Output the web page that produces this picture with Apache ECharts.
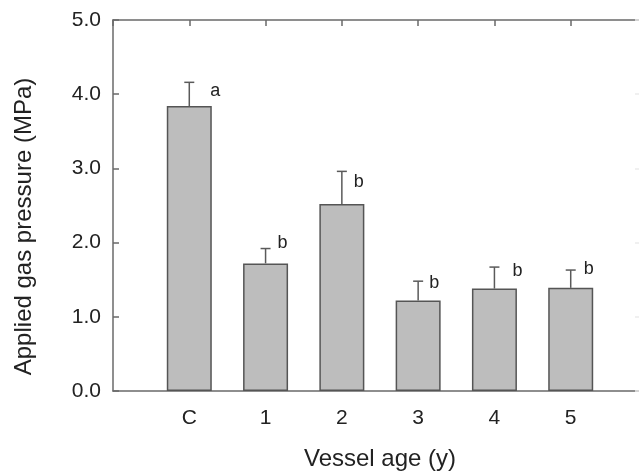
<!DOCTYPE html>
<html>
<head>
<meta charset="utf-8">
<script src="https://cdn.jsdelivr.net/npm/echarts@6/dist/echarts.min.js"></script>
<style>html,body{margin:0;padding:0;background:#fff;overflow:hidden;width:639px;height:476px;}#c{width:650px;height:476px;}</style>
</head>
<body>
<div id="c"></div>
<script>
// ---- data ----
var categories = ['C', '1', '2', '3', '4', '5'];
var means = [3.84, 1.72, 2.52, 1.22, 1.38, 1.39];
var errTops = [4.16, 1.92, 2.96, 1.48, 1.67, 1.63];
var letters = ['a', 'b', 'b', 'b', 'b', 'b'];
var letterY = [3.93, 1.88, 2.71, 1.35, 1.51, 1.53];
var yTicks = [0, 1, 2, 3, 4, 5];
var xTitle = 'Vessel age (y)';
var yTitle = 'Applied gas pressure (MPa)';

// ---- style ----
var letterDx = [21, 12, 12, 11, 18, 13];
var FONT = 'Liberation Sans, Arial, sans-serif';
var axisColor = '#6a6a6a';
var textColor = '#222';

var axisCats = [''].concat(categories).concat(['']);
var barData = ['-'].concat(means).concat(['-']);
var errData = categories.map(function (c, i) { return [i + 1, means[i], errTops[i], i]; });

var chart = echarts.init(document.getElementById('c'), null, {renderer: 'canvas'});
chart.setOption({
  animation: false,
  backgroundColor: '#fff',
  grid: {left: 113, top: 20, bottom: 81, right: 2, containLabel: false},
  xAxis: [{
    type: 'category', data: axisCats, position: 'bottom', boundaryGap: false,
    axisLine: {show: true, onZero: false, lineStyle: {color: axisColor, width: 1.5}},
    axisTick: {show: false},
    axisLabel: {interval: 0, margin: 17, fontSize: 21, color: textColor, fontFamily: FONT},
    splitLine: {show: false},
    name: xTitle, nameLocation: 'middle', nameGap: 56,
    nameTextStyle: {fontSize: 24, color: textColor, fontFamily: FONT}
  }, {
    type: 'category', data: axisCats, position: 'top', boundaryGap: false,
    axisLine: {show: true, onZero: false, lineStyle: {color: axisColor, width: 1.5}},
    axisTick: {show: true, inside: true, length: 6, interval: 0, lineStyle: {color: axisColor, width: 1.5}},
    axisLabel: {show: false}, splitLine: {show: false}
  }],
  yAxis: [{
    type: 'value', min: 0, max: 5, interval: 1, position: 'left',
    axisLine: {show: true, onZero: false, lineStyle: {color: axisColor, width: 1.5}},
    axisTick: {show: true, inside: true, length: 6, lineStyle: {color: axisColor, width: 1.5}},
    axisLabel: {margin: 12, fontSize: 21, color: textColor, fontFamily: FONT,
      formatter: function (v) { return yTicks.indexOf(v) >= 0 ? v.toFixed(1) : ''; }},
    splitLine: {show: false},
    name: yTitle, nameLocation: 'middle', nameGap: 77,
    nameTextStyle: {fontSize: 24, color: textColor, fontFamily: FONT, padding: [0, 42, 0, 0]}
  }, {
    type: 'value', min: 0, max: 5, interval: 1, position: 'right',
    axisLine: {show: true, onZero: false, lineStyle: {color: '#ddd'}},
    axisTick: {show: true, inside: true, length: 12, lineStyle: {color: '#ececec', width: 1.5}},
    axisLabel: {show: false}, splitLine: {show: false}
  }],
  series: [{
    type: 'bar', data: barData, barWidth: 45,
    itemStyle: {color: '#bdbdbd', borderColor: '#555', borderWidth: 1.5},
    z: 2
  }, {
    type: 'custom', data: errData, z: 3,
    renderItem: function (params, api) {
      var x = api.value(0);
      var base = api.coord([x, api.value(1)]);
      var top = api.coord([x, api.value(2)]);
      var idx = api.value(3);
      var lp = api.coord([x, letterY[idx]]);
      var stroke = {stroke: '#5a5a5a', lineWidth: 1.5};
      return {type: 'group', children: [
        {type: 'line', shape: {x1: base[0], y1: base[1], x2: top[0], y2: top[1]}, style: stroke},
        {type: 'line', shape: {x1: top[0] - 5, y1: top[1], x2: top[0] + 5, y2: top[1]}, style: stroke},
        {type: 'text', style: {text: letters[idx], x: lp[0] + letterDx[idx], y: lp[1] + 1,
          textAlign: 'left', textVerticalAlign: 'bottom', fill: textColor,
          font: '18px ' + FONT}}
      ]};
    }
  }]
});
</script>
</body>
</html>
